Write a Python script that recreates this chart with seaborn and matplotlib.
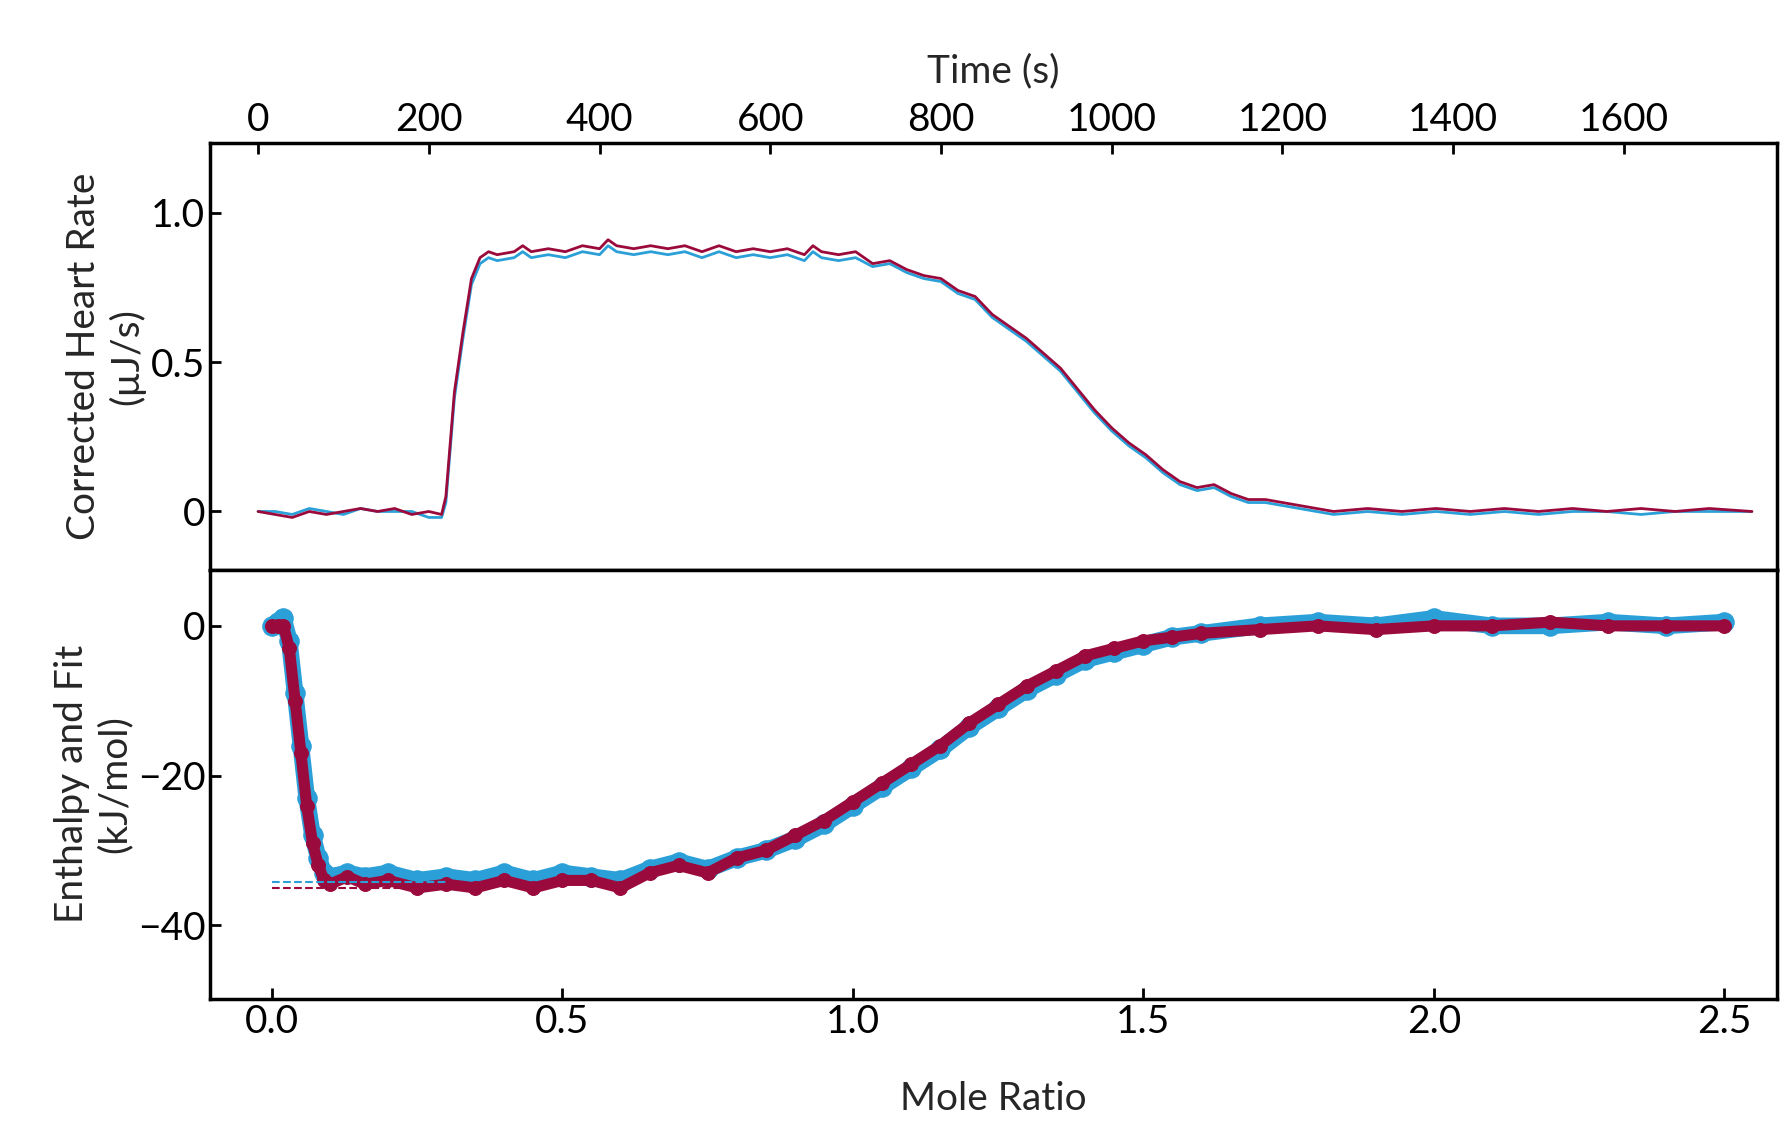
import matplotlib
matplotlib.use("Agg")
import matplotlib.pyplot as plt
import seaborn as sns
import pandas as pd

sns.set_theme(style="white")
plt.rcParams['font.family'] = ['Lato', 'DejaVu Sans']

time_s = [0,20,40,60,80,100,120,140,160,180,200,215,220,230,240,250,260,270,280,300,310,320,340,360,380,400,410,420,440,460,480,500,520,540,560,580,600,620,640,650,660,680,700,720,740,760,780,800,820,840,860,880,900,920,940,960,980,1000,1020,1040,1060,1080,1100,1120,1140,1160,1180,1200,1220,1240,1260,1300,1340,1380,1420,1460,1500,1540,1580,1620,1660,1700,1750]
rate_red = [0,-0.01,-0.02,0,-0.01,0,0.01,0,0.01,-0.01,0,-0.01,0.05,0.4,0.6,0.78,0.85,0.87,0.86,0.87,0.89,0.87,0.88,0.87,0.89,0.88,0.91,0.89,0.88,0.89,0.88,0.89,0.87,0.89,0.87,0.88,0.87,0.88,0.86,0.89,0.87,0.86,0.87,0.83,0.84,0.81,0.79,0.78,0.74,0.72,0.66,0.62,0.58,0.53,0.48,0.41,0.34,0.28,0.23,0.19,0.14,0.10,0.08,0.09,0.06,0.04,0.04,0.03,0.02,0.01,0.0,0.01,0.0,0.01,0.0,0.01,0.0,0.01,0.0,0.01,0.0,0.01,0.0]
rate_blue = [0,0.0,-0.01,0.01,0,-0.01,0.01,0,0.0,0,-0.02,-0.02,0.03,0.38,0.58,0.76,0.83,0.85,0.84,0.85,0.87,0.85,0.86,0.85,0.87,0.86,0.89,0.87,0.86,0.87,0.86,0.87,0.85,0.87,0.85,0.86,0.85,0.86,0.84,0.87,0.85,0.84,0.85,0.82,0.83,0.80,0.78,0.77,0.73,0.71,0.65,0.61,0.57,0.52,0.47,0.40,0.33,0.27,0.22,0.18,0.13,0.09,0.07,0.08,0.05,0.03,0.03,0.02,0.01,0.0,-0.01,0.0,-0.01,0.0,-0.01,0.0,-0.01,0.0,0.0,-0.01,0.0,0.0,0.0]

ratio = [0,0.01,0.02,0.03,0.04,0.05,0.06,0.07,0.08,0.09,0.10,0.13,0.16,0.2,0.25,0.3,0.35,0.4,0.45,0.5,0.55,0.6,0.65,0.7,0.75,0.8,0.85,0.9,0.95,1.0,1.05,1.1,1.15,1.2,1.25,1.3,1.35,1.4,1.45,1.5,1.55,1.6,1.7,1.8,1.9,2.0,2.1,2.2,2.3,2.4,2.5]
enth_red = [0,0,0,-3,-10,-17,-24,-29,-32,-34,-34.5,-33.5,-34.5,-34,-35,-34.5,-35,-34,-35,-34,-34,-35,-33,-32,-33,-31,-30,-28,-26,-23.5,-21,-18.5,-16,-13,-10.5,-8,-6,-4,-3,-2,-1.5,-1,-0.5,0,-0.5,0,0,0.5,0,0,0]
enth_blue = [0,0.5,1,-2,-9,-16,-23,-28,-31,-33,-33.5,-33,-33.5,-33,-34,-33.5,-34,-33,-34,-33,-33.5,-34,-32.5,-31.5,-32.5,-31,-30,-28.5,-26.5,-24,-21.5,-19,-16.5,-13.5,-11,-8.5,-6.5,-4.5,-3.5,-2.5,-1.5,-1,0,0.5,0,1,0,0,0.5,0,0.5]
fit_x = [0.0,0.3]
fit_red = [-35,-35]
fit_blue = [-34.2,-34.2]

RED = "#9b0a3c"; BLUE = "#2ba0d8"
fig = plt.figure(figsize=(17.82, 11.44), dpi=100)
ax1 = fig.add_axes([0.118, 0.502, 0.879, 0.373])
ax2 = fig.add_axes([0.118, 0.127, 0.879, 0.375])

sns.lineplot(x=time_s, y=rate_blue, ax=ax1, color=BLUE, lw=2)
sns.lineplot(x=time_s, y=rate_red, ax=ax1, color=RED, lw=2)
ax1.set_xlim(-56, 1779); ax1.set_ylim(-0.195, 1.234)
ax1.xaxis.tick_top(); ax1.xaxis.set_label_position("top")
ax1.set_xticks(range(0, 1601, 200))
ax1.set_yticks([0, 0.5, 1.0]); ax1.set_yticklabels(["0", "0.5", "1.0"])
ax1.set_xlabel("Time (s)", fontsize=28, labelpad=14)
ax1.set_ylabel("Corrected Heart Rate\n(µJ/s)", fontsize=28)

sns.lineplot(x=ratio, y=enth_blue, ax=ax2, color=BLUE, lw=12, marker="o", ms=14, mec=BLUE)
sns.lineplot(x=ratio, y=enth_red, ax=ax2, color=RED, lw=8, marker="o", ms=10, mec=RED)
ax2.plot(fit_x, fit_blue, ls="--", color=BLUE, lw=1.5)
ax2.plot(fit_x, fit_red, ls="--", color=RED, lw=1.5)
ax2.set_xlim(-0.106, 2.59); ax2.set_ylim(-49.8, 7.5)
ax2.set_yticks([0, -20, -40])
ax2.set_xticks([0, 0.5, 1.0, 1.5, 2.0, 2.5])
ax2.set_xlabel("Mole Ratio", fontsize=28, labelpad=30)
ax2.set_ylabel("Enthalpy and Fit\n(kJ/mol)", fontsize=28)

for ax in (ax1, ax2):
    for s in ax.spines.values():
        s.set_linewidth(2.5); s.set_color("black")
    ax.tick_params(labelsize=28, width=2, length=8, colors="black")
ax1.tick_params(axis="x", top=True, bottom=False, direction="in")
ax1.tick_params(axis="y", left=True, direction="in")
ax2.tick_params(axis="both", left=True, bottom=True, direction="in")
fig.savefig("out.png", dpi=100)
